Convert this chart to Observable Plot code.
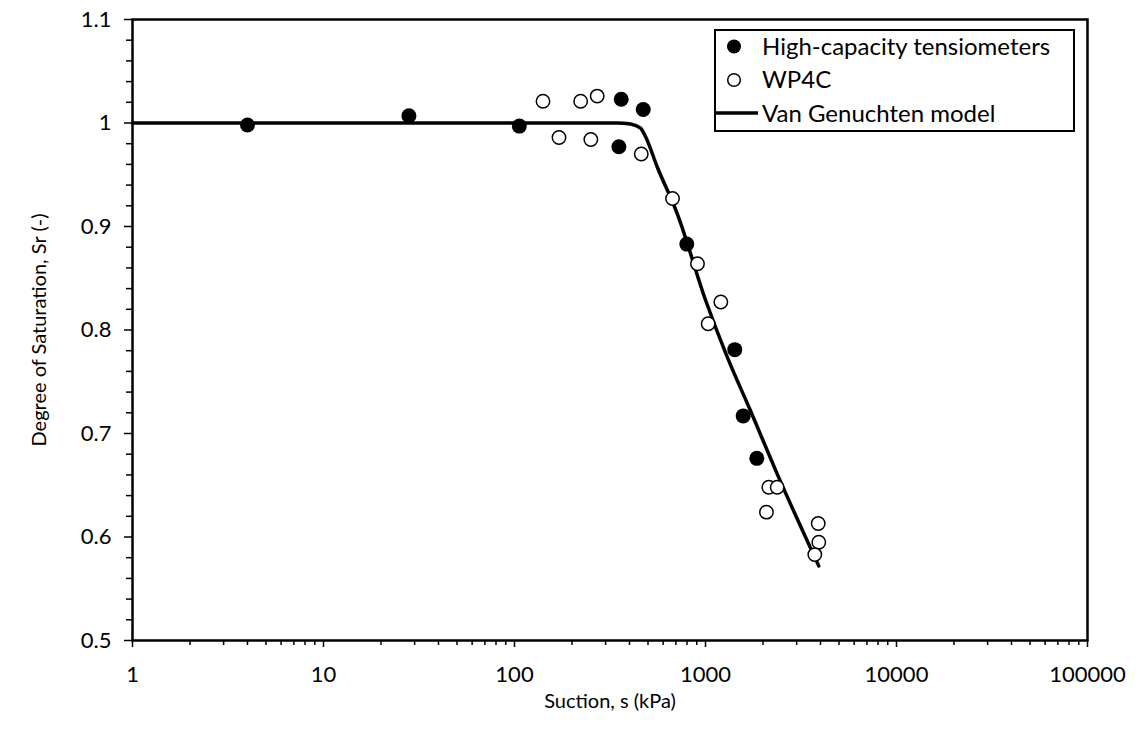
<!DOCTYPE html>
<html><head><meta charset="utf-8">
<script src="https://cdn.jsdelivr.net/npm/d3@7"></script>
<script src="https://cdn.jsdelivr.net/npm/@observablehq/plot@0.6"></script>
<style>
body{margin:0;background:#fff;}
#wrap{position:relative;width:1139px;height:731px;font-family:Lato,"Open Sans",sans-serif;}
#legend{position:absolute;left:714px;top:29px;}
</style>
</head><body><div id="wrap"></div>
<script>
// High-capacity tensiometers
const htcSuction = [4.0, 28, 106, 362, 352, 472, 798, 1423, 1575, 1856];
const htcSr      = [0.998, 1.007, 0.997, 1.023, 0.977, 1.013, 0.883, 0.781, 0.717, 0.676];
// WP4C
const wpSuction = [141, 222, 271, 171, 251, 461, 672, 908, 1203, 1033, 2145, 2373, 2085, 3892, 3919, 3735];
const wpSr      = [1.021, 1.021, 1.026, 0.986, 0.984, 0.970, 0.927, 0.864, 0.827, 0.806, 0.648, 0.648, 0.624, 0.613, 0.595, 0.583];
// Van Genuchten model
const vgSuction = [1, 35, 151, 345, 405, 457, 485, 559, 711, 1000, 1299, 1720, 2373, 3919];
const vgSr      = [1.0, 1.0, 1.0, 1.0, 0.999, 0.995, 0.987, 0.9575, 0.9125, 0.829, 0.774, 0.722, 0.661, 0.572];

const xMajor = [1, 10, 100, 1000, 10000, 100000];
const yMajor = [0.5, 0.6, 0.7, 0.8, 0.9, 1, 1.1];
const yLabels = ["0.5", "0.6", "0.7", "0.8", "0.9", "1", "1.1"];

const xMinor = [];
for (const d of xMajor.slice(0, -1)) for (let k = 2; k <= 9; k++) xMinor.push(d * k);
const yMinor = d3.range(0.5, 1.1001, 0.02).map(v => +v.toFixed(2)).filter(v => !yMajor.some(m => Math.abs(m - v) < 1e-6));

const htc = htcSuction.map((s, i) => ({s, sr: htcSr[i]}));
const wp = wpSuction.map((s, i) => ({s, sr: wpSr[i]}));
const vg = vgSuction.map((s, i) => ({s, sr: vgSr[i]}));

const FONT = "Lato, 'Open Sans', sans-serif";
const chart = Plot.plot({
  width: 1139, height: 731,
  marginLeft: 132, marginRight: 52, marginTop: 19, marginBottom: 91,
  style: {fontFamily: FONT, fontSize: "22px", color: "#000", background: "#fff"},
  x: {type: "log", domain: [1, 100000]},
  y: {domain: [0.5, 1.1]},
  marks: [
    Plot.axisX(xMinor, {tickSize: 5, tickFormat: () => "", strokeWidth: 1.5, label: null}),
    Plot.axisX(xMajor, {tickSize: 7, tickPadding: 19, strokeWidth: 1.5, tickFormat: d => String(d),
      label: "Suction, s (kPa)", labelAnchor: "center", labelOffset: 67, labelArrow: "none"}),
    Plot.axisY(yMinor, {tickSize: 6, tickFormat: () => "", strokeWidth: 1.5, label: null}),
    Plot.axisY(yMajor, {tickSize: 8, tickPadding: 13, strokeWidth: 1.5, tickFormat: (d) => yLabels[yMajor.indexOf(d)],
      label: "Degree of Saturation, Sr (-)", labelAnchor: "center", labelOffset: 101, labelArrow: "none"}),
    Plot.line(vg, {x: "s", y: "sr", stroke: "#000", strokeWidth: 3.5, curve: "monotone-x"}),
    Plot.dot(wp, {x: "s", y: "sr", r: 6.7, fill: "#fff", stroke: "#000", strokeWidth: 1.5}),
    Plot.dot(htc, {x: "s", y: "sr", r: 7.5, fill: "#000", stroke: "none"}),
    Plot.frame({stroke: "#000", strokeWidth: 2.5})
  ]
});
const sel = d3.select(chart);
sel.selectAll("text").style("font-family", FONT).attr("fill", "#000").style("font-size", "22px");
sel.selectAll('g[aria-label="x-axis label"] text, g[aria-label="y-axis label"] text').style("font-size", "20px");
const wrap = document.getElementById("wrap");
wrap.appendChild(chart);

// Legend
const lg = d3.select(wrap).append("svg").attr("id", "legend").attr("width", 361).attr("height", 103)
  .style("font-family", FONT).style("font-size", "24px");
lg.append("rect").attr("x", 1).attr("y", 1).attr("width", 359).attr("height", 101).attr("fill", "#fff").attr("stroke", "#000").attr("stroke-width", 2);
const entries = ["High-capacity tensiometers", "WP4C", "Van Genuchten model"];
lg.append("circle").attr("cx", 20).attr("cy", 17.5).attr("r", 7).attr("fill", "#000");
lg.append("circle").attr("cx", 20).attr("cy", 51).attr("r", 6.3).attr("fill", "#fff").attr("stroke", "#000").attr("stroke-width", 1.5);
lg.append("line").attr("x1", 2).attr("x2", 44).attr("y1", 84).attr("y2", 84).attr("stroke", "#000").attr("stroke-width", 3.5);
entries.forEach((t, i) => lg.append("text").attr("x", 48).attr("y", 17.5 + i * 33.3).attr("dy", "0.36em").text(t));
</script>
</body></html>
